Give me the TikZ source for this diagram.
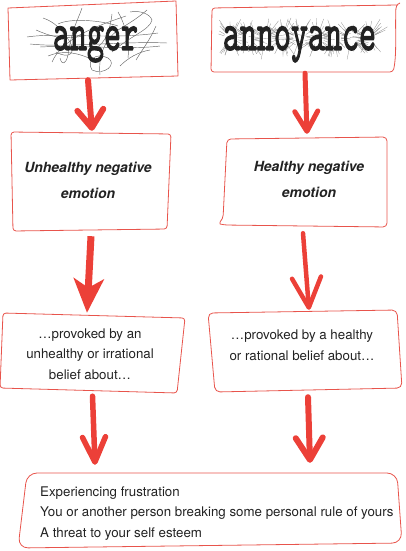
\documentclass[tikz,border=0pt]{standalone}
\usepackage{fontspec}
\setmainfont{TeX Gyre Heros}
\newfontfamily\twfont[FakeBold=2.5]{lmmono10-regular.otf}
\usetikzlibrary{arrows.meta}
\definecolor{arrowred}{RGB}{236,64,56}
\definecolor{boxred}{RGB}{232,84,76}
\definecolor{ink}{RGB}{34,34,34}
\begin{document}
\begin{tikzpicture}[x=1pt,y=-1pt,
 outline/.style={draw=boxred,line width=0.8pt,line join=round},
 zone/.style={draw=none,rectangle,inner sep=0pt},
 barbarrow/.style={draw=arrowred,line cap=round},
 fillarrow/.style={draw=arrowred,line width=7pt,-{Stealth[length=34pt,width=30pt,inset=9pt]}},
 txt/.style={font=\fontsize{13.3}{20.5}\selectfont,text=ink,align=center,inner sep=0pt},
 emo/.style={font=\fontsize{14}{26}\selectfont\bfseries\itshape,text=ink,align=center,inner sep=0pt},
 word/.style={font=\twfont\fontsize{32.4}{34}\selectfont,text=ink,inner sep=0pt,anchor=base},
 scribble/.style={draw=black!60,line width=0.45pt},
 spike/.style={draw=black!45,line width=0.3pt}
]
\useasboundingbox (0,0) rectangle (405,551);

% ---------- invisible box areas (used by connectors) ----------
\node[zone,minimum width=170pt,minimum height=79pt] (anger) at (93,40.5) {};
\node[zone,minimum width=190pt,minimum height=69pt] (annoy) at (305,38.5) {};
\node[zone,minimum width=160pt,minimum height=99pt] (unh) at (91,181.5) {};
\node[zone,minimum width=168pt,minimum height=90pt] (hea) at (304,182) {};
\node[zone,minimum width=185pt,minimum height=80pt] (prov1) at (92.5,353) {};
\node[zone,minimum width=194pt,minimum height=82pt] (prov2) at (305,351) {};
\node[zone,minimum width=384pt,minimum height=75pt] (bottom) at (210,510.5) {};

% ---------- hand drawn outlines ----------
\draw[outline] (8,8) -- (176,1) -- (178,76) -- (10,80) -- cycle;
\draw[outline,rounded corners=3pt] (400,3) .. controls (398,4) and (397,5) .. (396,6)
   .. controls (395,30) and (397,55) .. (393,72) -- (211,72) -- (212,8) -- (397,5);
\draw[outline,rounded corners=3pt] (11,132) -- (171,134) -- (167,229) -- (13,231) -- cycle;
\draw[outline,rounded corners=4pt] (227,139) -- (387,137) -- (387,227) -- (224,225)
   .. controls (220,224) and (220,222) .. (223,219) -- cycle;
\draw[outline,rounded corners=3pt] (3,313) -- (185,318) -- (177,393) -- (0,388) -- cycle;
\draw[outline,rounded corners=5pt] (208,313) -- (397,310) -- (402,388) -- (215,392) -- cycle;
\draw[outline,rounded corners=10pt] (27,473) -- (397,473) -- (402,543) -- (18,548) -- cycle;

% ---------- scribbles round "anger" ----------
\draw[scribble] (27,37) .. controls (60,32) and (110,40) .. (158,33);
\draw[scribble] (30,44) .. controls (70,48) and (120,41) .. (167,43);
\draw[scribble] (40,47) .. controls (80,45) and (130,50) .. (160,46);
\draw[scribble] (82,8) .. controls (78,20) and (72,28) .. (68,55) .. controls (66,64) and (62,66) .. (60,58);
\draw[scribble] (43,18) .. controls (55,22) and (62,30) .. (70,42) .. controls (76,52) and (70,60) .. (56,52);
\draw[scribble] (147,10) .. controls (138,18) and (128,24) .. (118,30) .. controls (105,40) and (98,55) .. (100,75);
\draw[scribble] (130,12) .. controls (140,10) and (150,14) .. (152,20) .. controls (150,30) and (130,36) .. (112,52);
\draw[scribble] (92,70) .. controls (86,60) and (96,52) .. (108,58) .. controls (118,64) and (104,76) .. (92,70);
\draw[scribble] (48,56) .. controls (62,50) and (80,52) .. (96,62);
\draw[scribble] (120,66) .. controls (128,58) and (138,52) .. (150,50);
\draw[scribble] (58,24) .. controls (70,18) and (100,20) .. (118,26);
\draw[scribble] (112,14) .. controls (110,30) and (106,42) .. (96,48);
\draw[scribble] (36,30) .. controls (50,36) and (60,40) .. (84,36);
\draw[scribble] (136,60) .. controls (142,50) and (150,40) .. (156,26);
\draw[scribble] (118,12) .. controls (124,22) and (130,40) .. (128,58);
\draw[scribble] (52,62) .. controls (62,40) and (90,28) .. (126,16);

% ---------- spikes round "annoyance" ----------
\pgfmathsetseed{11}
\foreach \k in {0,...,8}{
  \foreach \j in {1,...,24}{
    \pgfmathsetmacro\ang{rnd*360}
    \pgfmathsetmacro\len{4+rnd*11}
    \draw[spike] (231+17.2*\k,38) ++(\ang:7) -- ++(\ang:\len);
  }
}

% ---------- texts ----------
\node[word] (angerword) at (95.5,50) {\scalebox{1}[1.65]{anger}};
\node[word] (annoyword) at (299.5,50) {\scalebox{1}[1.65]{annoyance}};
\node[emo] (unhtext) at (88,180.5) {Unhealthy negative\\emotion};
\node[emo] (heatext) at (309,179.5) {Healthy negative\\emotion};
\node[txt] (prov1text) at (90,354) {…provoked by an\\unhealthy or irrational\\belief about…};
\node[txt] (prov2text) at (302,345) {…provoked by a healthy\\or rational belief about…};
\node[txt,align=left,anchor=west] (bottomtext) at (40,513.5)
  {Experiencing frustration\\You or another person breaking some personal rule of yours\\A threat to your self esteem};

% ---------- connectors ----------
\draw[barbarrow,line width=6pt,-{Straight Barb[length=18pt,width=26pt,round]}]
  ([xshift=-5pt]anger.south) -- ([xshift=1pt,yshift=1pt]unh.north);
\draw[barbarrow,line width=5pt,-{Straight Barb[length=20pt,width=23pt,round]}]
  (annoy.south) -- ([xshift=3pt,yshift=3pt]hea.north);
\draw[fillarrow] ([yshift=-5pt]unh.south) -- ([xshift=-5.5pt]prov1.north);
\draw[barbarrow,line width=4.5pt,-{Straight Barb[length=30pt,width=29pt,round]}]
  ([xshift=-1pt,yshift=-6pt]hea.south) -- ([xshift=4pt]prov2.north);
\draw[barbarrow,line width=5.5pt,-{Straight Barb[length=25pt,width=23pt,round]}]
  ([yshift=-3pt]prov1.south) -- ([xshift=-115pt,yshift=8pt]bottom.north);
\draw[barbarrow,line width=6pt,-{Straight Barb[length=22pt,width=27pt,round]}]
  ([xshift=3pt,yshift=-5pt]prov2.south) -- ([xshift=100pt,yshift=10pt]bottom.north);
\end{tikzpicture}
\end{document}
